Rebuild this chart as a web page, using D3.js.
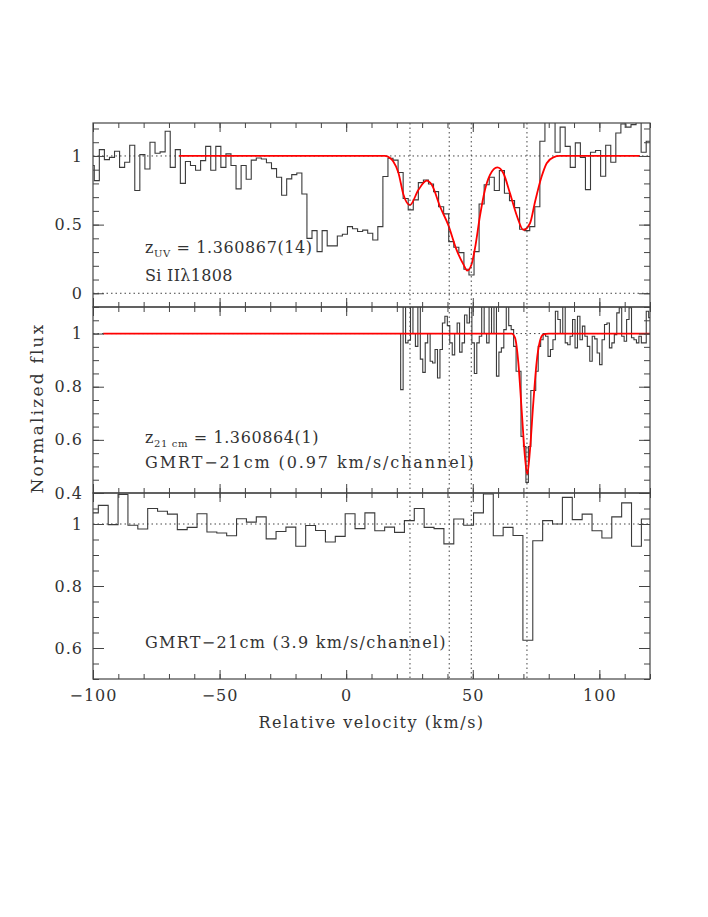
<!DOCTYPE html>
<html>
<head>
<meta charset="utf-8">
<script src="https://cdn.jsdelivr.net/npm/d3@7.9.0/dist/d3.min.js"></script>
<style>
  body { margin: 0; background: #fff; }
  svg text { font-family: "DejaVu Serif", serif; font-size: 16px; fill: #333; }
  .axis text { letter-spacing: 1px; }
  .title { letter-spacing: 1.5px; }
</style>
</head>
<body>
<svg id="chart" width="708" height="917"></svg>
<script>
// Si II 1808 spectrum, 2 km/s bins (left edge of first bin)
const uvStart = -101.5, uvWidth = 2;
const uvFlux = [
  0.93, 0.82, 1.046, 0.973, 0.99, 1.034, 0.917, 0.954, 1.078, 0.748,
  1.01, 0.905, 1.10, 1.02, 1.03, 1.18, 0.917, 1.046, 0.80, 0.96,
  0.93, 0.896, 0.966, 1.07, 0.896, 1.07, 0.917, 1.015, 0.93, 0.76,
  0.93, 0.83, 0.97, 0.985, 0.978, 0.95, 0.908, 0.845, 0.714, 0.833,
  0.864, 0.876, 0.723, 0.40, 0.456, 0.303, 0.456, 0.345, 0.345, 0.417,
  0.43, 0.485, 0.47, 0.45, 0.46, 0.437, 0.388, 0.485, 0.85, 0.983,
  0.97, 0.88, 0.69, 0.607, 0.68, 0.806, 0.825, 0.796, 0.74, 0.63,
  0.578, 0.376, 0.335, 0.296, 0.175, 0.133, 0.303, 0.65, 0.79, 0.845,
  0.748, 0.893, 0.728, 0.675, 0.624, 0.466, 0.456, 0.485, 0.63, 1.107,
  1.30, 1.30, 1.027, 1.21, 1.07, 0.917, 1.095, 0.99, 0.755, 1.027,
  1.04, 0.852, 1.078, 0.954, 1.167, 1.233, 1.21, 1.228, 1.25, 1.027, 1.107
];
// fitted profile
const uvModelVel = [-66, 0, 12, 15.3, 17.3, 18.6, 20.6, 22.6, 25.2, 28.5, 31.8, 33.8, 37.1, 40.3,
  43.6, 46.3, 47.8, 49.5, 50.9, 52.8, 54.8, 56.8, 59.7, 62.1, 64.7, 67.3, 70.0, 72.6, 74.6,
  77.2, 79.2, 81.8, 84.4, 90, 116];
const uvModelFlux = [1, 1, 1, 1, 0.985, 0.96, 0.88, 0.72, 0.643, 0.752, 0.82, 0.79, 0.63, 0.498,
  0.316, 0.21, 0.165, 0.21, 0.33, 0.558, 0.752, 0.862, 0.917, 0.874, 0.728, 0.57, 0.461, 0.51, 0.667,
  0.85, 0.947, 0.99, 1, 1, 1];

// GMRT 21-cm, 0.97 km/s channels
const hiStart = 20.55, hiWidth = 0.97;
const hiFlux = [
  1.0,
  0.789, 1.12, 0.965, 0.975, 1.12, 1.0, 0.952, 1.12, 0.904, 0.854,
  0.965, 1.0, 0.896, 0.889, 0.94, 0.833, 0.94, 1.04, 1.065, 1.03,
  0.965, 0.92, 1.0, 1.04, 0.93, 0.965, 1.07, 1.04, 1.12, 0.965,
  0.85, 0.965, 0.99, 1.12, 1.0, 0.965, 1.12, 1.0, 1.12, 0.84,
  0.93, 0.946, 1.015, 1.12, 1.03, 1.015, 0.952, 0.858, 0.858, 0.613,
  0.575, 0.44, 0.575, 0.786, 0.786, 0.858, 0.952, 0.977, 1.0, 0.99,
  0.914, 0.94, 0.977, 1.084, 1.053, 1.0, 1.12, 0.965, 0.958, 0.99,
  1.053, 0.946, 1.065, 0.977, 1.028, 0.99, 0.952, 0.896, 0.99, 0.98,
  0.927, 0.883, 0.977, 1.034, 1.04, 0.946, 0.965, 0.996, 1.078, 1.097,
  0.99, 0.971, 1.053, 1.097, 0.984, 0.977, 0.965, 0.99, 0.965, 0.965, 1.084, 1.06
];
const hiModelVel = [-96, 60, 65.4, 66.7, 68.0, 69.3, 70.6, 71.5, 72.6, 73.9, 75.2, 76.5, 77.8, 80, 120];
const hiModelFlux = [1, 1, 1, 0.984, 0.89, 0.713, 0.537, 0.47, 0.562, 0.738, 0.89, 0.971, 0.996, 1, 1];

// GMRT 21-cm, 3.9 km/s channels
const loStart = -101.8, loWidth = 3.9;
const loFlux = [
  1.036, 1.06, 0.998, 1.095, 0.996, 0.984, 1.05, 1.041, 1.032, 0.982,
  0.989, 1.033, 0.974, 0.971, 0.962, 1.017, 1.006, 1.023, 0.952, 0.976,
  0.99, 0.928, 0.995, 0.979, 0.942, 0.96, 1.033, 0.985, 1.036, 0.978,
  0.99, 0.973, 1.011, 1.05, 0.989, 0.985, 0.936, 1.016, 0.996, 1.036,
  1.097, 0.962, 0.989, 0.963, 0.625, 0.946, 1.011, 1.0, 1.086, 1.014,
  1.032, 0.978, 0.955, 1.023, 1.068, 0.928, 1.016
];

// velocity components (dotted verticals)
const compVel = [25.2, 40.7, 49.4, 71.4];

const velTicks = [-100, -50, 0, 50, 100];
const uvTicks = [0, 0.5, 1];
const hiTicks = [0.4, 0.6, 0.8, 1];
const loTicks = [0.6, 0.8, 1];

const plotLeft = 93, plotRight = 650, plotTop = 123, plotBottom = 679;

const panels = [
  { y0: 123, y1: 307, domain: [-0.1, 1.24], ticks: uvTicks, minor: 0.1, refs: [0, 1],
    start: uvStart, width: uvWidth, flux: uvFlux, mVel: uvModelVel, mFlux: uvModelFlux },
  { y0: 307, y1: 493, domain: [0.4, 1.1], ticks: hiTicks, minor: 0.05, refs: [1],
    start: hiStart, width: hiWidth, flux: hiFlux, mVel: hiModelVel, mFlux: hiModelFlux },
  { y0: 493, y1: 679, domain: [0.5, 1.1], ticks: loTicks, minor: 0.05, refs: [1],
    start: loStart, width: loWidth, flux: loFlux }
];

const svg = d3.select('#chart');
svg.append('rect').attr('width', 708).attr('height', 917).attr('fill', '#fff');

const x = d3.scaleLinear().domain([-100, 120]).range([plotLeft, plotRight]);
const velMinor = d3.range(-100, 121, 10);

panels.forEach((p, i) => {
  const y = d3.scaleLinear().domain(p.domain).range([p.y1, p.y0]);
  const yMinor = d3.range(Math.ceil(p.domain[0] / p.minor - 1e-6), Math.floor(p.domain[1] / p.minor + 1e-6) + 1)
    .map(k => +(k * p.minor).toFixed(3));

  svg.append('clipPath').attr('id', 'clip' + i)
    .append('rect')
    .attr('x', plotLeft).attr('y', p.y0)
    .attr('width', plotRight - plotLeft).attr('height', p.y1 - p.y0);

  const inner = svg.append('g').attr('clip-path', `url(#clip${i})`);

  // dotted reference levels
  p.refs.forEach(r => {
    inner.append('line')
      .attr('x1', plotLeft).attr('x2', plotRight)
      .attr('y1', y(r)).attr('y2', y(r))
      .attr('stroke', '#444').attr('stroke-width', 1)
      .attr('stroke-dasharray', '1.5 3');
  });

  // histogram spectrum
  const pts = p.flux.map((f, k) => [p.start + k * p.width, f]);
  pts.push([p.start + p.flux.length * p.width, p.flux[p.flux.length - 1]]);
  inner.append('path')
    .datum(pts)
    .attr('fill', 'none')
    .attr('stroke', '#3a3a3a')
    .attr('stroke-width', 1.1)
    .attr('d', d3.line().x(d => x(d[0])).y(d => y(d[1])).curve(d3.curveStepAfter));

  // fitted model
  if (p.mVel) {
    const mdl = p.mVel.map((v, k) => [v, p.mFlux[k]]);
    inner.append('path')
      .datum(mdl)
      .attr('fill', 'none')
      .attr('stroke', '#ff0000')
      .attr('stroke-width', 1.8)
      .attr('d', d3.line().x(d => x(d[0])).y(d => y(d[1])).curve(d3.curveMonotoneX));
  }

  // axes, ticks pointing inward on all sides
  const ax = svg.append('g').attr('class', 'axis').attr('color', '#444');
  ax.append('g').attr('transform', `translate(${plotLeft},0)`)
    .call(d3.axisLeft(y).tickValues(yMinor).tickSize(-6).tickFormat(''));
  ax.append('g').attr('transform', `translate(${plotLeft},0)`)
    .call(d3.axisLeft(y).tickValues(p.ticks).tickSize(-11).tickPadding(10).tickFormat(d3.format('~g')));
  ax.append('g').attr('transform', `translate(${plotRight},0)`)
    .call(d3.axisRight(y).tickValues(yMinor).tickSize(-6).tickFormat(''));
  ax.append('g').attr('transform', `translate(${plotRight},0)`)
    .call(d3.axisRight(y).tickValues(p.ticks).tickSize(-11).tickFormat(''));
  ax.append('g').attr('transform', `translate(0,${p.y0})`)
    .call(d3.axisTop(x).tickValues(velMinor).tickSize(-5).tickFormat(''));
  ax.append('g').attr('transform', `translate(0,${p.y0})`)
    .call(d3.axisTop(x).tickValues(velTicks).tickSize(-9).tickFormat(''));
  ax.append('g').attr('transform', `translate(0,${p.y1})`)
    .call(d3.axisBottom(x).tickValues(velMinor).tickSize(-5).tickFormat(''));
  ax.append('g').attr('transform', `translate(0,${p.y1})`)
    .call(d3.axisBottom(x).tickValues(velTicks).tickSize(-9).tickPadding(11)
      .tickFormat(i === panels.length - 1 ? d3.format('d') : ''));
  ax.selectAll('.domain').remove();
  ax.selectAll('line').attr('stroke-width', 1);

  svg.append('rect')
    .attr('x', plotLeft).attr('y', p.y0)
    .attr('width', plotRight - plotLeft).attr('height', p.y1 - p.y0)
    .attr('fill', 'none').attr('stroke', '#444').attr('stroke-width', 1.2);
});

// component velocities through all panels
svg.append('g').selectAll('line')
  .data(compVel)
  .join('line')
  .attr('x1', d => x(d)).attr('x2', d => x(d))
  .attr('y1', plotTop).attr('y2', plotBottom)
  .attr('stroke', '#444').attr('stroke-width', 1)
  .attr('stroke-dasharray', '1.5 3');

// annotations
const t1 = svg.append('text').attr('x', 145).attr('y', 253).style('letter-spacing', '0.6px');
t1.append('tspan').text('z');
t1.append('tspan').attr('dy', 4).style('font-size', '10px').text('UV');
t1.append('tspan').attr('dy', -4).text(' = 1.360867(14)');
svg.append('text').attr('x', 145).attr('y', 281).style('letter-spacing', '0.3px').text('Si IIλ1808');

const t2 = svg.append('text').attr('x', 145).attr('y', 443).style('letter-spacing', '0.6px');
t2.append('tspan').text('z');
t2.append('tspan').attr('dy', 4).style('font-size', '10px').text('21 cm');
t2.append('tspan').attr('dy', -4).text(' = 1.360864(1)');
svg.append('text').attr('x', 145).attr('y', 468).style('letter-spacing', '1.9px')
  .text('GMRT\u221221cm (0.97 km/s/channel)');
svg.append('text').attr('x', 145).attr('y', 648).style('letter-spacing', '1.3px')
  .text('GMRT\u221221cm (3.9 km/s/channel)');

// axis titles
svg.append('text').attr('class', 'title')
  .attr('x', (plotLeft + plotRight) / 2).attr('y', 728)
  .attr('text-anchor', 'middle')
  .text('Relative velocity (km/s)');
svg.append('text').attr('class', 'title')
  .attr('transform', `translate(43,408) rotate(-90)`)
  .attr('text-anchor', 'middle')
  .style('font-size', '17px').style('letter-spacing', '2.2px')
  .text('Normalized flux');
</script>
</body>
</html>
